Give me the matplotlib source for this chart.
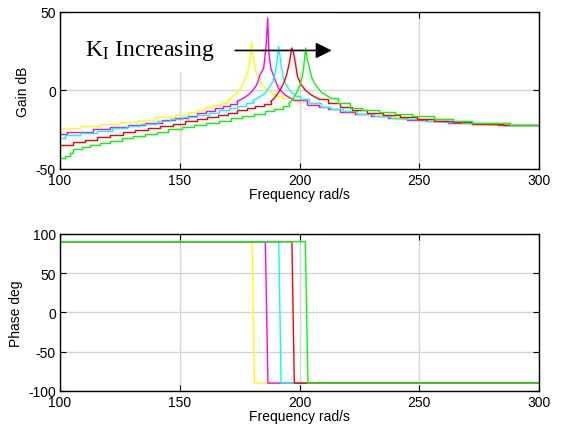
import matplotlib
matplotlib.use("Agg")
import numpy as np
import matplotlib.pyplot as plt
from matplotlib.patches import Rectangle

plt.rcParams["font.family"] = ["Liberation Sans", "DejaVu Sans"]
plt.rcParams["mathtext.fontset"] = "stix"
plt.rcParams["axes.unicode_minus"] = False

colors = ["#ffff00", "#ff00ff", "#00ffff", "#ff0000", "#00ff00"]

# gain curves (rad/s, dB), one per K_I value
f_y = [100, 108.4, 116.7, 125, 132.7, 139.7, 148, 153.6, 157, 160.6, 164, 167, 170, 172, 175, 176.5, 178,
       179, 180, 180.6, 181.5, 182.5, 184, 185.6, 188.4, 190.5, 192.6, 199.5, 204, 208, 213, 218, 222, 230,
       240, 250, 262, 280, 300]
g_y = [-24.1, -22.7, -21.3, -20, -18.6, -17.1, -15.6, -13.9, -12.4, -10.8, -9.3, -7.8, -6.3, -4, 0, 5, 10,
       16, 30.8, 22, 13, 9, 4.5, 1.5, -1.8, -3.5, -5, -7.1, -8.7, -10.3, -12, -13.5, -15, -16.5, -18, -19.3,
       -20.5, -22.2, -22.2]

f_m = [100, 102.8, 113.9, 120.9, 128.5, 135.5, 142.5, 148, 153.6, 157, 161, 164.5, 168, 171, 174, 176.5,
       178.6, 180.5, 182.1, 183.5, 185, 186, 186.7, 187.2, 188, 189.5, 191.2, 194, 197.4, 203, 208, 212,
       217, 223, 230, 237, 245, 253, 262, 272, 283, 300]
g_m = [-27.5, -26.2, -24.7, -23.4, -22, -20.5, -19, -17.5, -16.1, -14.5, -13, -11.5, -10, -8.5, -7, -5,
       -2.9, 0, 3.5, 9.9, 14, 28, 46, 24, 14, 7.8, 1.2, -3, -6, -9.2, -10.5, -12, -13.5, -15, -16.3, -17.5,
       -18.7, -19.7, -20.6, -21.4, -22.2, -22.2]

f_c = [100, 102, 108.4, 115.3, 121.6, 127.8, 133.4, 140.4, 145.9, 151.5, 157, 162, 166.5, 170.5, 174,
       177.5, 180.5, 183, 185.5, 187.5, 189, 190, 190.7, 191.2, 191.8, 192.5, 193.5, 195, 196.5, 198.5, 200,
       204, 209, 213, 218, 224, 231, 238, 245, 252, 260, 268, 276, 286, 300]
g_c = [-30, -28.6, -27.1, -25.6, -24.2, -22.7, -21.2, -19.7, -18.3, -16.8, -15.5, -14.2, -12.8, -11.3,
       -9.8, -8.2, -6.5, -4.5, -2, 2.4, 6, 13, 20, 28, 22, 14, 6, 2, -1, -3.5, -5.5, -8, -10.3, -11.8, -13.3,
       -14.8, -16.2, -17.4, -18.4, -19.3, -20.2, -21, -21.6, -22.2, -22.2]

f_r = [100, 105.6, 110.4, 115.3, 120.9, 126.4, 131.3, 136.9, 141.8, 147.3, 152.2, 157, 161.5, 166, 170,
       174, 178, 181.5, 185, 188, 189.5, 191.8, 193.5, 194.6, 195.8, 196.7, 197.5, 198.3, 199.1, 200.5,
       202.5, 205, 208, 212, 217, 222, 228, 235, 242, 249, 256, 264, 272, 285, 300]
g_r = [-34.5, -32.8, -31.3, -29.8, -28.3, -26.8, -25.3, -23.9, -22.5, -21.1, -19.7, -18.3, -17, -15.6,
       -14.2, -12.8, -11.4, -10, -8.5, -7, -5, 0, 5, 10, 18, 27, 24, 17, 9, 4, 0, -3, -5.5, -8, -10.5, -12.5,
       -14.2, -15.8, -17.2, -18.4, -19.4, -20.3, -21.2, -22.2, -22.2]

f_g = [100, 102, 104, 105.6, 109, 112.5, 116.7, 120.9, 125.8, 130.6, 135.5, 140.4, 145.2, 150.8, 156, 161,
       166.5, 171.5, 176, 181, 185.5, 189.5, 193, 195.5, 197.5, 199.2, 200.2, 201, 201.6, 202.5, 203.2, 204,
       205, 206, 207.2, 209, 211, 213, 216, 221, 226, 233, 240, 247, 256, 264, 272, 288, 300]
g_g = [-42.8, -41.5, -40, -37.5, -36, -34.7, -33.2, -32, -30.5, -29, -27.7, -26.2, -24.7, -23.4, -22,
       -20.7, -19.3, -17.8, -16.3, -14.8, -13.3, -11.8, -10.2, -8.5, -5, 0, 3.5, 8, 13, 27, 20, 15, 8.7, 5,
       2.4, -1, -3, -5, -8, -11, -12.5, -13.8, -15, -16.6, -18.5, -19.8, -20.8, -22.2, -22.2]

# frequency span around each peak where the trace is drawn as straight segments
lin_lo = [170, 174, 180.5, 188, 195.5]
lin_hi = [190.5, 197.4, 198.5, 208, 213]

# phase: +90 deg until the resonance, then -90 deg
ph_f = [[100, 180.2, 181.2, 300],
        [100, 185.7, 186.8, 300],
        [100, 191.3, 192.3, 300],
        [100, 196.8, 197.8, 300],
        [100, 202.4, 203.5, 300]]
ph_v = [90, 90, -90, -90]

gain_f = [f_y, f_m, f_c, f_r, f_g]
gain_v = [g_y, g_m, g_c, g_r, g_g]

fig = plt.figure(figsize=(5.61, 4.27), dpi=100)
ax1 = fig.add_axes([0.107, 0.602, 0.854, 0.368])
ax2 = fig.add_axes([0.107, 0.082, 0.854, 0.368])

for ax in (ax1, ax2):
    ax.set_axisbelow(True)
    ax.grid(True, color="#d4d4d4", linewidth=1.0)
    ax.set_xlim(100, 300)
    ax.set_xticks([100, 150, 200, 250, 300])
    ax.tick_params(direction="in", top=True, right=True, length=4, labelsize=10, pad=3)
    for s in ax.spines.values():
        s.set_linewidth(1.0)
    ax.set_xlabel("Frequency rad/s", fontsize=10, labelpad=0)

# white box behind the annotation text
ax1.add_patch(Rectangle((103, 12), 112, 38, facecolor="white", edgecolor="none", zorder=1))

for f, g, c, lo, hi in zip(gain_f, gain_v, colors, lin_lo, lin_hi):
    f = np.array(f)
    g = np.array(g)
    left = f <= lo
    mid = (f >= lo) & (f <= hi)
    right = f >= hi
    ax1.plot(f[left], g[left], color=c, linewidth=1.0, drawstyle="steps-post", zorder=2)
    ax1.plot(f[mid], g[mid], color=c, linewidth=1.0, zorder=2)
    ax1.plot(f[right], g[right], color=c, linewidth=1.0, drawstyle="steps-post", zorder=2)
ax1.set_ylim(-50, 50)
ax1.set_yticks([-50, 0, 50])
ax1.set_ylabel("Gain dB", fontsize=10, labelpad=4)

ax1.text(110.4, 22.6, r"K$_\mathrm{I}$ Increasing", family=["Liberation Serif", "DejaVu Serif"],
         fontsize=17, va="baseline", ha="left", zorder=3)
ax1.annotate("", xy=(213.4, 25.4), xytext=(173.1, 25.4),
             arrowprops=dict(arrowstyle="-|>,head_length=0.6,head_width=0.3", mutation_scale=16,
                             color="black", linewidth=1.2, shrinkA=0, shrinkB=0), zorder=3)

for f, c in zip(ph_f, colors):
    ax2.plot(f, ph_v, color=c, linewidth=1.0)
ax2.set_ylim(-100, 100)
ax2.set_yticks([-100, -50, 0, 50, 100])
ax2.set_ylabel("Phase deg", fontsize=10, labelpad=4)

fig.savefig("out.png", dpi=100)
